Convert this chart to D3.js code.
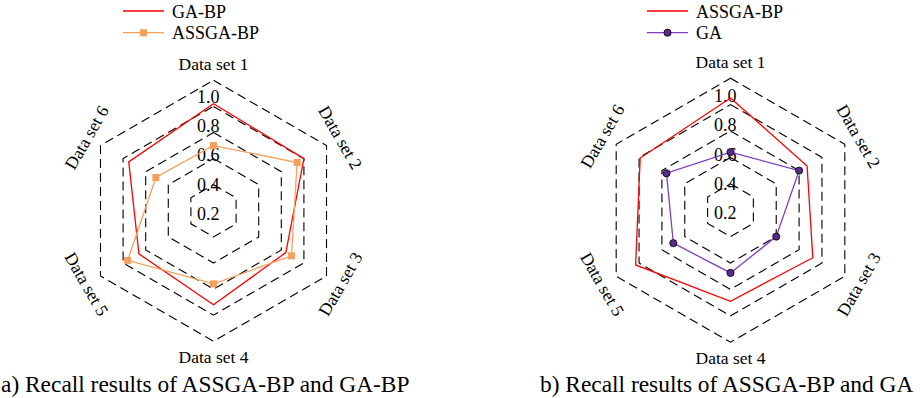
<!DOCTYPE html>
<html>
<head>
<script src="https://d3js.org/d3.v7.min.js"></script>
<style>
  body { margin: 0; background: #fff; font-family: 'Liberation Serif', 'Times New Roman', 'DejaVu Serif', serif; }
  text { font-family: 'Liberation Serif', 'Times New Roman', 'DejaVu Serif', serif; fill: #000; }
  .ring { fill: none; stroke: #000; stroke-width: 1.1; stroke-dasharray: 9, 5; }
  .series { fill: none; stroke-width: 1.3; }
</style>
</head>
<body>
<div id="chart"></div>
<script>
// data
var categories = ["Data set 1", "Data set 2", "Data set 3", "Data set 4", "Data set 5", "Data set 6"];
var ticks = [0.2, 0.4, 0.6, 0.8, 1.0];
var tickLabels = ["0.2", "0.4", "0.6", "0.8", "1.0"];

// panel a
var gaBpA = [0.82, 0.80, 0.64, 0.72, 0.66, 0.75];
var assgaBpA = [0.50, 0.74, 0.69, 0.56, 0.76, 0.51];
// panel b
var assgaBpB = [0.85, 0.67, 0.72, 0.69, 0.83, 0.79];
var gaB = [0.44, 0.60, 0.40, 0.475, 0.50, 0.56];

var FONT = "'Liberation Serif', 'Times New Roman', 'DejaVu Serif', serif";

var svg = d3.select("#chart").append("svg")
    .attr("width", 921)
    .attr("height", 398)
    .attr("font-family", FONT);

var panels = [
    {
        cx: 213.5, cy: 210.8, R: 130.5, legendX: 123, captionX: 1,
        caption: "a) Recall results of ASSGA-BP and GA-BP",
        series: [
            { name: "GA-BP", values: gaBpA, color: "#ff0000", marker: null },
            { name: "ASSGA-BP", values: assgaBpA, color: "#f5a05c", marker: "square" }
        ]
    },
    {
        cx: 730.5, cy: 210.2, R: 132, legendX: 647, captionX: 540,
        caption: "b) Recall results of ASSGA-BP and GA",
        series: [
            { name: "ASSGA-BP", values: assgaBpB, color: "#ff0000", marker: null },
            { name: "GA", values: gaB, color: "#7b3fc0", marker: "circle" }
        ]
    }
];

panels.forEach(function(p) {
    var angle = d3.scaleLinear()
        .domain([0, categories.length])
        .range([0, 2 * Math.PI]);
    var r = d3.scaleLinear()
        .domain([0, 1])
        .range([0, p.R]);
    var tickY = d3.scaleLinear()
        .domain([0.2, 1.0])
        .range([9, -108]);

    var g = svg.append("g")
        .attr("transform", "translate(" + p.cx + "," + p.cy + ")");

    // dashed hexagon grid
    g.selectAll(".ring")
        .data(ticks)
        .enter()
        .append("path")
        .attr("class", "ring")
        .attr("d", function(t) {
            return d3.lineRadial()
                .angle(function(d, i) { return angle(i); })
                .radius(r(t))
                .curve(d3.curveLinearClosed)(categories);
        });

    // radial tick labels
    g.selectAll(".tick-label")
        .data(ticks)
        .enter()
        .append("text")
        .attr("class", "tick-label")
        .attr("font-family", FONT)
        .attr("x", 6)
        .attr("y", function(t) { return tickY(t); })
        .attr("text-anchor", "end")
        .attr("font-size", 18)
        .text(function(t, i) { return tickLabels[i]; });

    // category labels, tangential
    g.selectAll(".cat-label")
        .data(categories)
        .enter()
        .append("text")
        .attr("class", "cat-label")
        .attr("font-family", FONT)
        .attr("font-size", 17.5)
        .attr("text-anchor", "middle")
        .attr("dominant-baseline", "central")
        .attr("transform", function(d, i) {
            var a = angle(i);
            var lr = p.R + 16;
            var x = lr * Math.sin(a);
            var y = -lr * Math.cos(a);
            var deg = a * 180 / Math.PI;
            if (deg > 90 && deg < 270) deg -= 180;
            else if (deg >= 270) deg -= 360;
            return "translate(" + x + "," + y + ") rotate(" + deg + ")";
        })
        .text(function(d) { return d; });

    // series
    p.series.forEach(function(s) {
        g.append("path")
            .attr("class", "series")
            .attr("stroke", s.color)
            .attr("d", d3.lineRadial()
                .angle(function(d, i) { return angle(i); })
                .radius(function(d) { return r(d); })
                .curve(d3.curveLinearClosed)(s.values));

        var pts = s.values.map(function(v, i) {
            return [r(v) * Math.sin(angle(i)), -r(v) * Math.cos(angle(i))];
        });
        if (s.marker === "square") {
            g.selectAll(null)
                .data(pts)
                .enter()
                .append("rect")
                .attr("x", function(d) { return d[0] - 3.5; })
                .attr("y", function(d) { return d[1] - 3.5; })
                .attr("width", 7)
                .attr("height", 7)
                .attr("fill", s.color);
        } else if (s.marker === "circle") {
            g.selectAll(null)
                .data(pts)
                .enter()
                .append("circle")
                .attr("cx", function(d) { return d[0]; })
                .attr("cy", function(d) { return d[1]; })
                .attr("r", 3.6)
                .attr("fill", "#5a2a8c")
                .attr("stroke", "#000")
                .attr("stroke-width", 0.8);
        }
    });

    // legend
    var legend = svg.append("g");
    p.series.forEach(function(s, i) {
        var y = 11 + i * 21.7;
        legend.append("line")
            .attr("x1", p.legendX)
            .attr("x2", p.legendX + 41)
            .attr("y1", y)
            .attr("y2", y)
            .attr("stroke", s.color)
            .attr("stroke-width", 1.3);
        var mx = p.legendX + 20.5;
        if (s.marker === "square") {
            legend.append("rect")
                .attr("x", mx - 3.5).attr("y", y - 3.5)
                .attr("width", 7).attr("height", 7)
                .attr("fill", s.color);
        } else if (s.marker === "circle") {
            legend.append("circle")
                .attr("cx", mx).attr("cy", y).attr("r", 3.6)
                .attr("fill", "#5a2a8c")
                .attr("stroke", "#000")
                .attr("stroke-width", 0.8);
        }
        legend.append("text")
            .attr("font-family", FONT)
            .attr("x", p.legendX + 49)
            .attr("y", y + 6.5)
            .attr("font-size", 18)
            .text(s.name);
    });

    // caption
    svg.append("text")
        .attr("font-family", FONT)
        .attr("x", p.captionX)
        .attr("y", 392)
        .attr("font-size", 23.4)
        .text(p.caption);
});
</script>
</body>
</html>
